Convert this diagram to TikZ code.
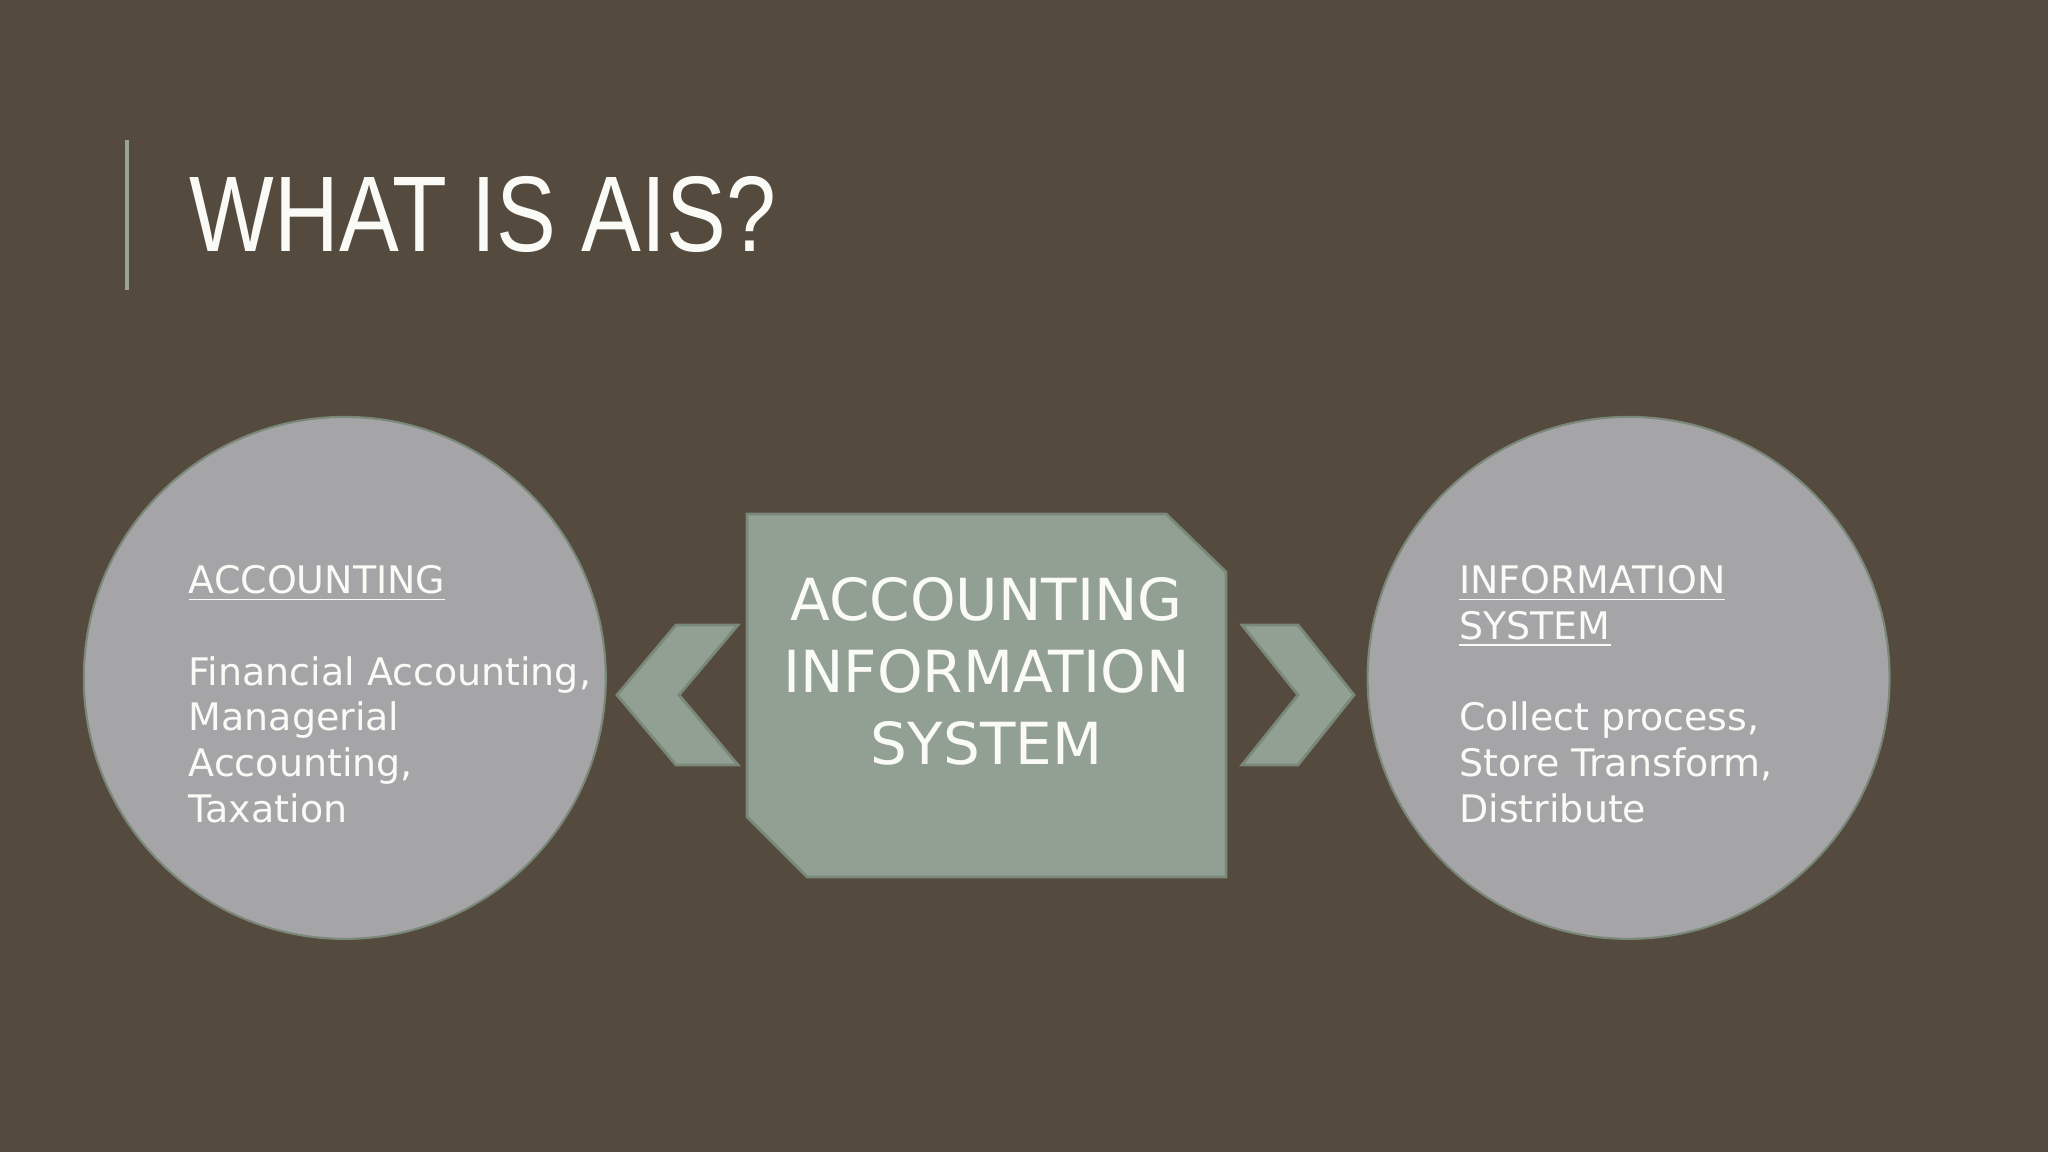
\documentclass[tikz,border=0pt]{standalone}
\usepackage{fontspec}
\setmainfont{DejaVu Sans}
\newfontfamily\titlefont{Liberation Sans}

\begin{document}
\begin{tikzpicture}[x=1cm,y=1cm]
  % colors
  \definecolor{kBg}{RGB}{84,74,61}
  \definecolor{kSage}{RGB}{146,160,148}
  \definecolor{kSageDark}{RGB}{122,136,122}
  \definecolor{kCircle}{RGB}{165,164,166}
  \definecolor{kLine}{RGB}{150,165,148}
  \definecolor{kText}{RGB}{250,250,246}
  % styles
  \tikzset{
    circ/.style={circle,draw=kSageDark,line width=0.6pt,fill=kCircle,minimum size=5.22cm,inner sep=0},
    chev/.style={draw=kSageDark,line width=0.8pt,fill=kSage},
    circtext/.style={anchor=north west,inner sep=0,align=left,text=kText,font=\fontsize{10.8}{13}\selectfont},
  }
  % background
  \fill[kBg] (0,0) rectangle (20.48,11.52);
  \useasboundingbox (0,0) rectangle (20.48,11.52);
  % title
  \draw[kLine,line width=1.1pt] (1.27,8.62) -- (1.27,10.12);
  \node[anchor=base west,inner sep=0,xscale=0.834,text=kText,font=\titlefont\fontsize{30.6}{36}\selectfont] (title) at (1.89,9.00) {WHAT IS AIS?};
  % centre box
  \draw[chev] (7.47,6.38) -- (11.66,6.38) -- (12.26,5.80) -- (12.26,2.75) -- (8.07,2.75) -- (7.47,3.35) -- cycle;
  \coordinate (ais) at (9.865,6.38);
  \node[align=center,anchor=north,inner sep=0,text=kText,font=\fontsize{16.5}{20.5}\selectfont] (aistext) at ([yshift=-0.63cm]ais) {ACCOUNTING\\INFORMATION\\SYSTEM};
  % chevrons
  \draw[chev] (7.38,5.27) -- (6.76,5.27) -- (6.17,4.57) -- (6.76,3.87) -- (7.38,3.87) -- (6.79,4.57) -- cycle;
  \draw[chev] (12.42,5.27) -- (12.98,5.27) -- (13.54,4.57) -- (12.98,3.87) -- (12.42,3.87) -- (12.98,4.57) -- cycle;
  % circles
  \node[circ] (acct) at (3.448,4.741) {};
  \node[circ] (infosys) at (16.286,4.741) {};
  \node[circtext] (accttext) at ([shift={(-1.568,1.13)}]acct.center) {\underline{ACCOUNTING}\\[13pt]Financial Accounting,\\Managerial\\Accounting,\\Taxation};
  \node[circtext] (infotext) at ([shift={(-1.70,1.13)}]infosys.center) {\underline{INFORMATION}\\\underline{SYSTEM}\\[13pt]Collect process,\\Store Transform,\\Distribute};
\end{tikzpicture}
\end{document}
